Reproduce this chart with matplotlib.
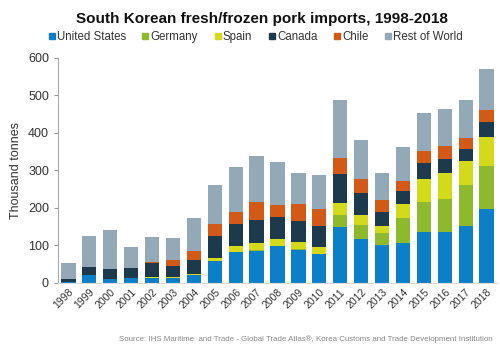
import numpy as np
import matplotlib
matplotlib.use("Agg")
import matplotlib.pyplot as plt

years = [str(y) for y in range(1998, 2019)]
united_states = [3, 20, 11, 13, 14, 14, 21, 58, 82, 86, 98, 89, 76, 148, 118, 100, 107, 135, 137, 153, 196]
germany = [0, 0, 0, 0, 0, 0, 0, 1, 1, 1, 1, 1, 1, 32, 36, 32, 65, 80, 86, 109, 117]
spain = [0, 0, 0, 0, 1, 1, 3, 8, 15, 20, 19, 18, 19, 32, 26, 19, 39, 62, 71, 62, 77]
canada = [8, 23, 25, 26, 38, 31, 38, 57, 60, 62, 58, 57, 56, 79, 60, 38, 35, 42, 36, 34, 39]
chile = [0, 0, 0, 0, 4, 16, 24, 32, 32, 46, 33, 46, 44, 41, 36, 32, 25, 33, 34, 29, 33]
rest_of_world = [42, 81, 104, 57, 65, 57, 87, 104, 119, 123, 113, 82, 91, 155, 104, 71, 91, 100, 99, 102, 109]

series = [
    ("United States", united_states, "#0c7fc9"),
    ("Germany", germany, "#8db92c"),
    ("Spain", spain, "#d2da1a"),
    ("Canada", canada, "#1d3a4d"),
    ("Chile", chile, "#d25a16"),
    ("Rest of World", rest_of_world, "#94a9b8"),
]

plt.rcParams['font.family'] = ['Liberation Sans', 'DejaVu Sans']

fig = plt.figure(figsize=(5, 3.51), dpi=100)
ax = fig.add_axes([0.116, 0.194, 0.878, 0.641])

x = np.arange(len(years))
bottom = np.zeros(len(years))
for name, vals, color in series:
    ax.bar(x, vals, width=0.68, bottom=bottom, color=color, label=name, linewidth=0)
    bottom += np.array(vals)

ax.set_xlim(-0.5, len(years) - 0.5)
ax.set_ylim(0, 600)
ax.set_yticks(range(0, 601, 100))
ax.set_xticks(x)
ax.set_xticklabels(years, rotation=45, ha="right", rotation_mode="anchor", fontsize=7.5, color="#333333")
ax.tick_params(axis="y", labelsize=9, colors="#333333", length=3, color="#999999")
ax.tick_params(axis="x", length=0, pad=3)
for s in ["top", "right"]:
    ax.spines[s].set_visible(False)
ax.spines["left"].set_color("#aaaaaa")
ax.spines["bottom"].set_color("#dddddd")
ax.set_ylabel("Thousand tonnes", fontsize=9, color="#333333")

fig.text(0.523, 0.945, "South Korean fresh/frozen pork imports, 1998-2018",
         ha="center", va="center", fontsize=11, fontweight="bold", color="#111111")

handles = [plt.Line2D([], [], marker="s", linestyle="", color=c, markersize=4.5) for _, _, c in series]
fig.legend(handles, [n for n, _, _ in series], loc="center", bbox_to_anchor=(0.51, 0.895),
           ncol=6, frameon=False, fontsize=8.3, handletextpad=0.05, columnspacing=1.3,
           handlelength=0.8, labelcolor="#333333")

fig.text(0.986, 0.034, "Source: IHS Maritime  and Trade - Global Trade Atlas\u00ae, Korea Customs and Trade Development Institution",
         ha="right", va="center", fontsize=5.7, color="#888888")

fig.savefig("out.png", dpi=100)
